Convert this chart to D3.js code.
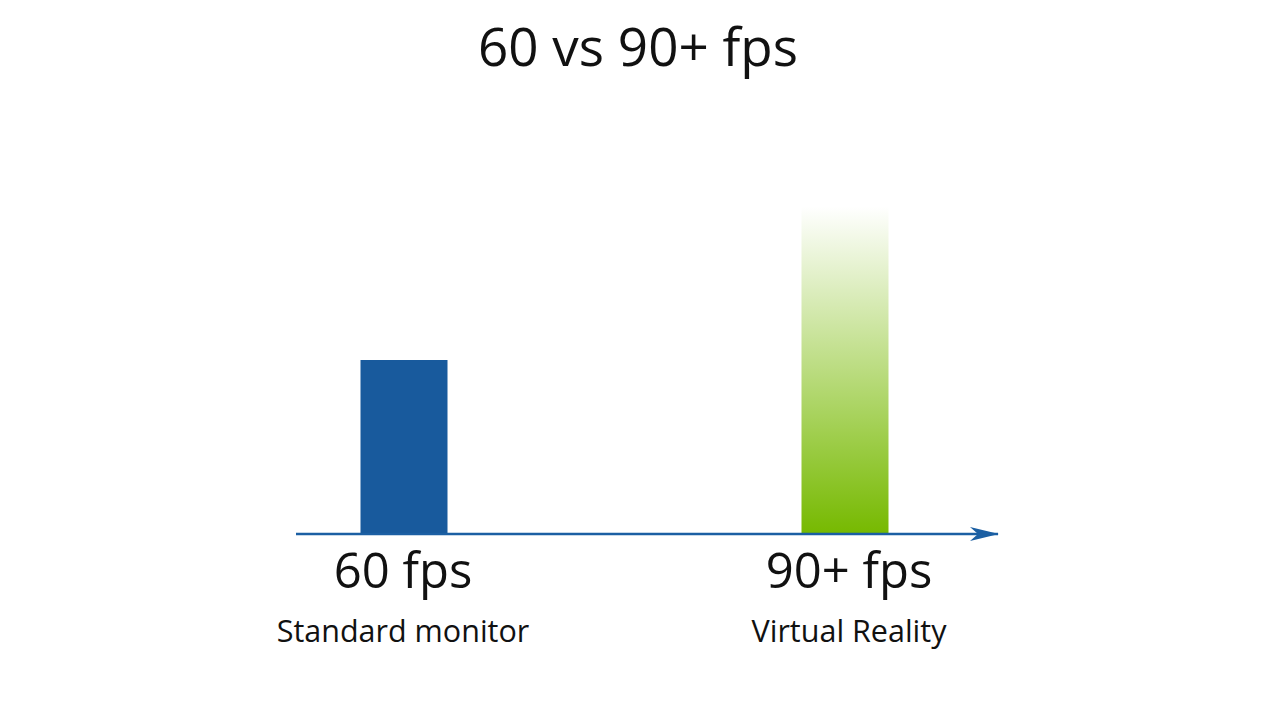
<!DOCTYPE html>
<html>
<head>
<meta charset="utf-8">
<script src="https://cdn.jsdelivr.net/npm/d3@7"></script>
<style>
  body { margin: 0; background: #fff; }
  text { font-family: "Open Sans", sans-serif; fill: #111; }
</style>
</head>
<body>
<script>
var width = 1280,
    height = 720;

// categories, values and their captions
var categories = ["60 fps", "90+ fps"];
var subtitles = ["Standard monitor", "Virtual Reality"];
var fpsValues = [60, 90];
// drawn height of each bar, the 90+ bar fades out above its value
var barHeights = [60, 113];

var svg = d3.select("body").append("svg")
    .attr("width", width)
    .attr("height", height);

// gradient for the VR bar
var defs = svg.append("defs");
var grad = defs.append("linearGradient")
    .attr("id", "vrGrad")
    .attr("x1", 0).attr("y1", 1)
    .attr("x2", 0).attr("y2", 0);
grad.append("stop").attr("offset", "0%").attr("stop-color", "#76b900").attr("stop-opacity", 1);
grad.append("stop").attr("offset", "100%").attr("stop-color", "#76b900").attr("stop-opacity", 0);

// arrow head for the axis
defs.append("marker")
    .attr("id", "arrow")
    .attr("viewBox", "0 0 30 16")
    .attr("refX", 28)
    .attr("refY", 8)
    .attr("markerWidth", 30)
    .attr("markerHeight", 16)
    .attr("markerUnits", "userSpaceOnUse")
    .attr("orient", "auto")
  .append("path")
    .attr("d", "M0,1 L29,8 L0,15 L8,8 Z")
    .attr("fill", "#1b5fa3");

// scales (labels sit a touch off the bar centres in the original)
var x = d3.scalePoint().domain(categories).range([404, 845]),
    xLabel = d3.scalePoint().domain(categories).range([403, 849]),
    y = d3.scaleLinear().domain([0, 60]).range([534, 360]);
var barWidth = 87;

// title
svg.append("text")
    .attr("x", width / 2 - 2)
    .attr("y", 66)
    .attr("text-anchor", "middle")
    .style("font-size", "53px")
    .text("60 vs 90+ fps");

// bars
svg.selectAll(".bar")
    .data(categories)
  .enter().append("rect")
    .attr("class", "bar")
    .attr("x", function(d) { return x(d) - barWidth / 2; })
    .attr("y", function(d, i) { return y(barHeights[i]); })
    .attr("width", barWidth)
    .attr("height", function(d, i) { return y(0) - y(barHeights[i]); })
    .attr("fill", function(d, i) { return i == 0 ? "#185a9d" : "url(#vrGrad)"; });

// axis line with arrow
svg.append("line")
    .attr("x1", 296)
    .attr("x2", 998)
    .attr("y1", y(0))
    .attr("y2", y(0))
    .attr("stroke", "#1b5fa3")
    .attr("stroke-width", 2.5)
    .attr("marker-end", "url(#arrow)");

// category labels
svg.selectAll(".cat")
    .data(categories)
  .enter().append("text")
    .attr("class", "cat")
    .attr("x", function(d) { return xLabel(d); })
    .attr("y", 588)
    .attr("text-anchor", "middle")
    .style("font-size", "49px")
    .text(function(d) { return d; });

svg.selectAll(".sub")
    .data(categories)
  .enter().append("text")
    .attr("class", "sub")
    .attr("x", function(d) { return xLabel(d); })
    .attr("y", 642)
    .attr("text-anchor", "middle")
    .style("font-size", "30.5px")
    .text(function(d, i) { return subtitles[i]; });
</script>
</body>
</html>
